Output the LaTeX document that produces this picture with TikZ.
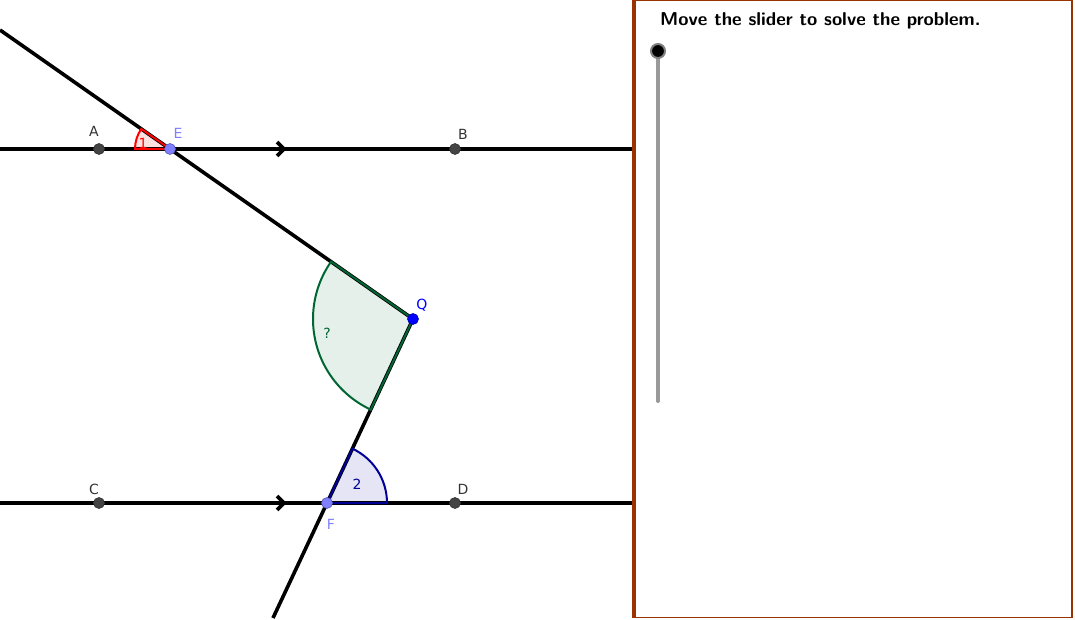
\documentclass[tikz,border=0pt]{standalone}
\usepackage{fontspec}
\newfontfamily\labfont{DejaVu Sans}
\definecolor{ptdark}{HTML}{444444}
\definecolor{ptlight}{HTML}{7F7FFF}
\definecolor{ptblue}{HTML}{0000FF}
\definecolor{angred}{HTML}{FF0000}
\definecolor{anggreen}{HTML}{006633}
\definecolor{angblue}{HTML}{000099}
\definecolor{panelbrown}{HTML}{993300}
\definecolor{slidergray}{HTML}{999999}
\tikzset{
  geoline/.style={line width=3.6pt, black},
  dpt/.style={circle, fill=ptdark, draw=black!80, line width=0.6pt, minimum size=11pt, inner sep=0pt},
  lpt/.style={circle, fill=ptlight, draw=ptlight!70!black, line width=0.6pt, minimum size=11pt, inner sep=0pt},
  qpt/.style={circle, fill=ptblue, draw=ptblue!70!black, line width=0.6pt, minimum size=11pt, inner sep=0pt},
  lab/.style={font=\labfont\fontsize{14}{14}\selectfont, inner sep=0pt},
  chev/.style={line width=3.6pt, black},
}
\begin{document}
\begin{tikzpicture}[x=1pt,y=-1pt]
\useasboundingbox (0,0) rectangle (1075,620);
% coordinates
\coordinate (Tstart) at (0,30);
\coordinate (Bend) at (273,618);
\coordinate (ABl) at (0,149);
\coordinate (ABr) at (634,149);
\coordinate (CDl) at (0,503);
\coordinate (CDr) at (634,503);
\coordinate (Ec) at (170,149);
\coordinate (Qc) at (413,319);
\coordinate (Fc) at (327,503);
\coordinate (ch1) at (284,149);
\coordinate (ch2) at (284,503);
% angle fills
\fill[angred!12] (Ec) -- ++(180:35) arc[start angle=180,end angle=215,radius=35] -- cycle;
\fill[anggreen!10] (Qc) -- ++(215:100) arc[start angle=215,end angle=115,radius=100] -- cycle;
\fill[angblue!10] (Fc) -- ++(0:60) arc[start angle=0,end angle=-65,radius=60] -- cycle;
% lines
\draw[geoline] (ABl) -- (ABr);
\draw[geoline] (CDl) -- (CDr);
\draw[geoline] (Tstart) -- (Ec) -- (Qc);
\draw[geoline] (Qc) -- (Fc) -- (Bend);
% chevrons
\draw[chev] (ch1) ++(-7,-7) -- (ch1) -- ++(-7,7);
\draw[chev] (ch2) ++(-7,-7) -- (ch2) -- ++(-7,7);
% angle borders
\draw[angred, line width=2pt, line join=miter] (Ec) -- ++(180:35) arc[start angle=180,end angle=215,radius=35] -- cycle;
\draw[anggreen, line width=2pt] (Qc) -- ++(215:100) arc[start angle=215,end angle=115,radius=100] -- cycle;
\draw[angblue, line width=2pt] (Fc) -- ++(0:60) arc[start angle=0,end angle=-65,radius=60] -- cycle;
% angle labels
\node[lab, text=angred] (l1) at (143,143) {1};
\node[lab, text=anggreen] (lq) at (327,333) {?};
\node[lab, text=angblue] (l2) at (357,484) {2};
% points
\node[dpt] (A) at (99,149) {};
\node[dpt] (B) at (455,149) {};
\node[dpt] (C) at (99,503) {};
\node[dpt] (D) at (455,503) {};
\node[lpt] (E) at (Ec) {};
\node[lpt] (F) at (Fc) {};
\node[qpt] (Q) at (Qc) {};
% point labels
\node[lab, text=black!80] (lA) at (94,131) {A};
\node[lab, text=black!80] (lB) at (463,134) {B};
\node[lab, text=black!80] (lC) at (94,489) {C};
\node[lab, text=black!80] (lD) at (463,489) {D};
\node[lab, text=ptlight] (lE) at (178,133) {E};
\node[lab, text=ptlight] (lF) at (331,524) {F};
\node[lab, text=ptblue] (lQ) at (422,305) {Q};
% panel
\fill[white] (634,0.75) rectangle (1072,617.5);
\draw[panelbrown, line width=1.5pt] (634,0.75) -- (1072,0.75) -- (1072,617.5) -- (634,617.5);
\draw[panelbrown, line width=3.8pt] (634,0) -- (634,618.2);
\node[anchor=base west, inner sep=0pt, font=\sffamily\bfseries\fontsize{18.6}{18.6}\selectfont] (title) at (660,26) {Move the slider to solve the problem.};
% slider
\coordinate (stop) at (658,51);
\coordinate (sbot) at (658,401);
\draw[slidergray, line width=4pt, line cap=round] (stop) -- (sbot);
\node[circle, fill=black, draw=gray, line width=2pt, minimum size=14pt, inner sep=0pt] (knob) at (stop) {};
\end{tikzpicture}
\end{document}
